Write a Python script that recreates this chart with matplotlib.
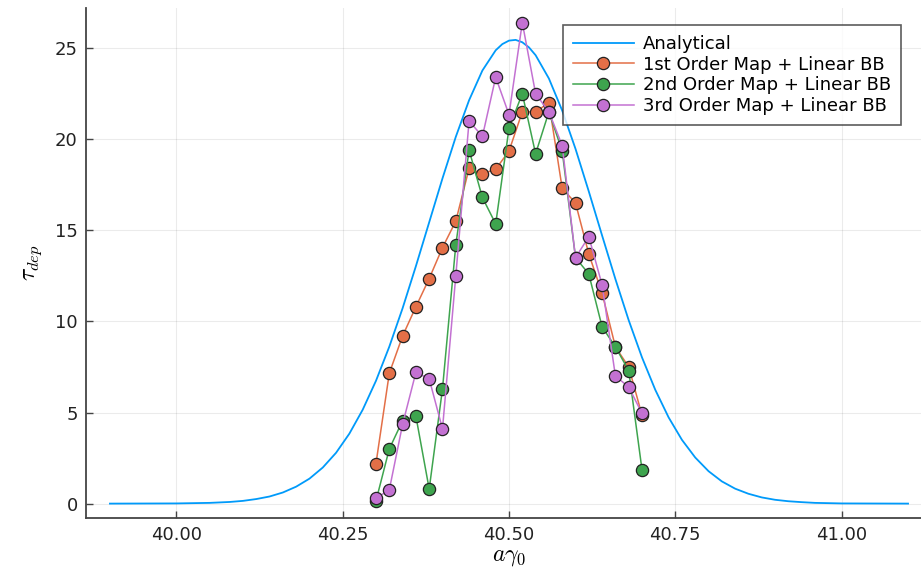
import matplotlib
matplotlib.use("Agg")
import matplotlib.pyplot as plt
from matplotlib.ticker import FixedLocator, FormatStrFormatter

# ---- data ----
analytic_x = [39.90, 40.00, 40.05, 40.08, 40.10, 40.12, 40.14, 40.16, 40.18, 40.20,
              40.22, 40.24, 40.26, 40.28, 40.30, 40.32, 40.34, 40.36, 40.38, 40.40,
              40.42, 40.44, 40.46, 40.48, 40.49, 40.50, 40.51, 40.52, 40.53, 40.54,
              40.56, 40.58, 40.60, 40.62, 40.64, 40.66, 40.68, 40.70, 40.72, 40.74,
              40.76, 40.78, 40.80, 40.82, 40.84, 40.86, 40.88, 40.90, 40.92, 40.94,
              40.96, 41.00, 41.10]
analytic_y = [0.00, 0.01, 0.04, 0.09, 0.15, 0.25, 0.39, 0.61, 0.93, 1.37,
              1.98, 2.79, 3.84, 5.15, 6.74, 8.61, 10.72, 13.03, 15.44, 17.85,
              20.13, 22.14, 23.77, 24.88, 25.22, 25.41, 25.45, 25.32, 25.04, 24.61,
              23.33, 21.57, 19.47, 17.13, 14.71, 12.32, 10.06, 8.02, 6.24, 4.73,
              3.50, 2.53, 1.78, 1.22, 0.82, 0.54, 0.34, 0.21, 0.13, 0.08,
              0.04, 0.01, 0.00]

x_pts = [40.30, 40.32, 40.34, 40.36, 40.38, 40.40, 40.42, 40.44, 40.46, 40.48, 40.50,
         40.52, 40.54, 40.56, 40.58, 40.60, 40.62, 40.64, 40.66, 40.68, 40.70]
first_order = [2.2, 7.15, 9.2, 10.8, 12.35, 14.05, 15.5, 18.4, 18.1, 18.35, 19.35,
               21.5, 21.5, 22.0, 17.3, 16.5, 13.7, 11.55, 8.6, 7.5, 4.85]
second_order = [0.15, 3.0, 4.55, 4.8, 0.8, 6.3, 14.2, 19.4, 16.8, 15.35, 20.6,
                22.5, 19.2, 21.5, 19.35, 13.5, 12.6, 9.7, 8.6, 7.3, 1.85]
third_order = [0.3, 0.75, 4.35, 7.2, 6.85, 4.1, 12.5, 21.0, 20.15, 23.4, 21.35,
               26.4, 22.5, 21.5, 19.65, 13.5, 14.65, 12.0, 7.0, 6.4, 4.95]

labels = ["Analytical", "1st Order Map + Linear BB",
          "2nd Order Map + Linear BB", "3rd Order Map + Linear BB"]
colors = ["#009AFA", "#E36F47", "#3EA44E", "#C371D2"]
x_ticks = [40.00, 40.25, 40.50, 40.75, 41.00]
y_ticks = [0, 5, 10, 15, 20, 25]

plt.rcParams["mathtext.fontset"] = "cm"
fig = plt.figure(figsize=(9.21, 5.76), dpi=100)
ax = fig.add_axes([86/921, 1-518/576, (932-86)/921, (518-8)/576])

ax.plot(analytic_x, analytic_y, color=colors[0], lw=1.3, label=labels[0])
for ys, c, lab in zip([first_order, second_order, third_order], colors[1:], labels[1:]):
    ax.plot(x_pts, ys, color=c, lw=1.1, marker="o", markersize=8.8,
            markerfacecolor=c, markeredgecolor="#222222", markeredgewidth=0.9,
            label=lab)

ax.set_xlim(39.864, 41.136)
ax.set_ylim(-0.79, 27.2)
ax.xaxis.set_major_locator(FixedLocator(x_ticks))
ax.yaxis.set_major_locator(FixedLocator(y_ticks))
ax.xaxis.set_major_formatter(FormatStrFormatter("%.2f"))
ax.grid(True, color="#000000", alpha=0.08, lw=0.8)
ax.set_axisbelow(True)
for s in ["top", "right"]:
    ax.spines[s].set_visible(False)
for s in ["left", "bottom"]:
    ax.spines[s].set_color("#444444")
    ax.spines[s].set_linewidth(1.3)
ax.tick_params(direction="in", length=5, width=1, color="#444444",
               labelsize=13, labelcolor="#222222", pad=6)

ax.set_xlabel(r"$a\gamma_0$", fontsize=17, labelpad=0)
ax.set_ylabel(r"$\tau_{dep}$", fontsize=17, labelpad=8)

leg = ax.legend(loc="upper right", bbox_to_anchor=(901/921, 1-25/576),
                bbox_transform=fig.transFigure, fontsize=13, frameon=True,
                fancybox=False, edgecolor="#333333", borderpad=0.55,
                labelspacing=0.15, handlelength=3.4, handletextpad=0.5,
                borderaxespad=0)
leg.get_frame().set_linewidth(1.2)

fig.savefig("out.png", dpi=100)
